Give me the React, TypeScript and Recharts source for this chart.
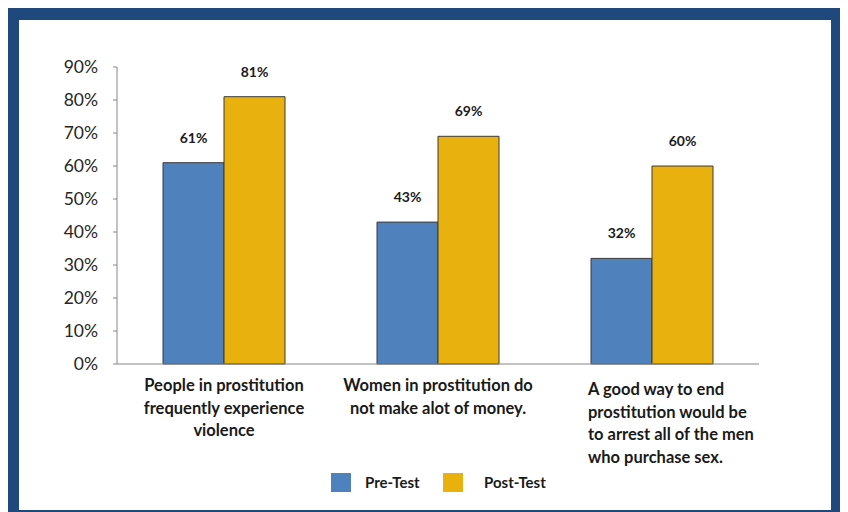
import React from 'react';
import { BarChart, Bar, XAxis, YAxis, Legend, LabelList } from 'recharts';

const categories = [
  'People in prostitution|frequently experience|violence',
  'Women in prostitution do|not make alot of money.',
  'A good way to end|prostitution would be|to arrest all of the men|who purchase sex.',
];
const preTest = [61, 43, 32];
const postTest = [81, 69, 60];
const yTicks = [0, 10, 20, 30, 40, 50, 60, 70, 80, 90];
const seriesNames = ['Pre-Test', 'Post-Test'];

const data = categories.map((c, i) => ({ name: c, pre: preTest[i], post: postTest[i] }));

const BLUE = '#4F81BD';
const GOLD = '#E9B10D';
const FONT = 'Lato, "Liberation Sans", sans-serif';

const tickAnchor = ['middle', 'middle', 'start'];
const tickShift = [0, 0, -64];
const tickTop = [27, 27, 31];

const CategoryTick = (props: any) => {
  const { x, y, payload, index } = props;
  const lines = String(payload.value).split('|');
  const i = index ?? 0;
  return (
    <text
      x={x + tickShift[i]}
      y={y + tickTop[i]}
      textAnchor={tickAnchor[i] as any}
      fontFamily={FONT}
      fontWeight={700}
      fontSize={16.5}
      fill="#1a1a1a"
    >
      {lines.map((l, k) => (
        <tspan key={k} x={x + tickShift[i]} dy={k === 0 ? 0 : 22.5}>
          {l}
        </tspan>
      ))}
    </text>
  );
};

const ValueLabel = (props: any) => {
  const { x, y, width, value } = props;
  return (
    <text
      x={x + width / 2}
      y={y - 20}
      textAnchor="middle"
      fontFamily={FONT}
      fontWeight={700}
      fontSize={14}
      fill="#1a1a1a"
    >
      {`${value}%`}
    </text>
  );
};

const legendSwatchLeft = [312, 424];
const legendTextLeft = [346, 465];

const LegendContent = () => {
  const colors = [BLUE, GOLD];
  return (
    <div style={{ position: 'relative', width: 812, height: 30 }}>
      {seriesNames.map((n, i) => (
        <React.Fragment key={n}>
          <div
            style={{
              position: 'absolute',
              left: legendSwatchLeft[i],
              top: 5,
              width: 20,
              height: 19,
              background: colors[i],
            }}
          />
          <span
            style={{
              position: 'absolute',
              left: legendTextLeft[i],
              top: 5,
              lineHeight: '19px',
              fontFamily: FONT,
              fontWeight: 700,
              fontSize: 15,
              color: '#1a1a1a',
            }}
          >
            {n}
          </span>
        </React.Fragment>
      ))}
    </div>
  );
};

export default function App() {
  return (
    <div
      style={{
        width: 834,
        height: 512,
        boxSizing: 'border-box',
        borderStyle: 'solid',
        borderColor: '#1F497D',
        borderWidth: '12px 11px 10px 11px',
        background: '#fff',
      }}
    >
      <BarChart
        width={812}
        height={490}
        data={data}
        margin={{ top: 47, right: 72, left: 0, bottom: 12 }}
        barCategoryGap="21.5%"
        barGap={0}
      >
        <YAxis
          domain={[0, 90]}
          ticks={yTicks}
          tickFormatter={(v: number) => `${v}%`}
          width={98}
          axisLine={{ stroke: '#868686' }}
          tickLine={{ stroke: '#868686' }}
          tickSize={4}
          tickMargin={15}
          tick={{ fontFamily: FONT, fontSize: 17.5, fill: '#262626' }}
          interval={0}
        />
        <XAxis
          dataKey="name"
          height={104}
          axisLine={{ stroke: '#868686' }}
          tickLine={false}
          tickSize={0}
          tickMargin={0}
          tick={<CategoryTick />}
          interval={0}
        />
        <Legend
          verticalAlign="bottom"
          height={30}
          wrapperStyle={{ left: 0, width: 812 }}
          content={<LegendContent />}
        />
        <Bar dataKey="pre" name={seriesNames[0]} fill={BLUE} stroke="#3a3a3a" strokeWidth={1} isAnimationActive={false}>
          <LabelList dataKey="pre" content={<ValueLabel />} />
        </Bar>
        <Bar dataKey="post" name={seriesNames[1]} fill={GOLD} stroke="#3a3a3a" strokeWidth={1} isAnimationActive={false}>
          <LabelList dataKey="post" content={<ValueLabel />} />
        </Bar>
      </BarChart>
    </div>
  );
}
